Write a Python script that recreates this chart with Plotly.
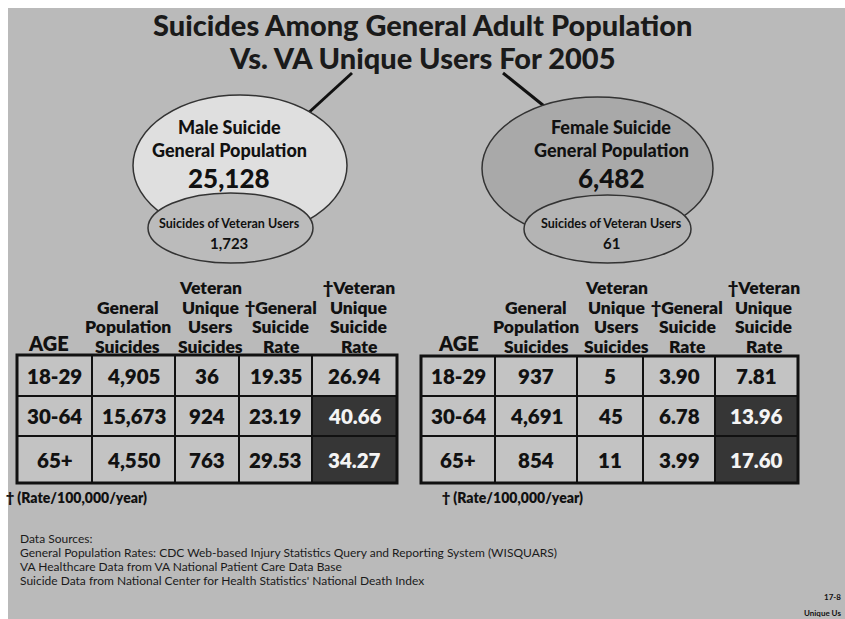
import plotly.graph_objects as go

# ---------------- data ----------------
title_lines = ["Suicides Among General Adult Population", "Vs. VA Unique Users For 2005"]

male_label = ["Male Suicide", "General Population"]
male_total = "25,128"
male_vet = "1,723"
female_label = ["Female Suicide", "General Population"]
female_total = "6,482"
female_vet = "61"
inner_label = "Suicides of Veteran Users"

ages = ["18-29", "30-64", "65+"]
male_gen_suicides = ["4,905", "15,673", "4,550"]
male_vet_suicides = ["36", "924", "763"]
male_gen_rate = ["19.35", "23.19", "29.53"]
male_vet_rate = ["26.94", "40.66", "34.27"]

female_gen_suicides = ["937", "4,691", "854"]
female_vet_suicides = ["5", "45", "11"]
female_gen_rate = ["3.90", "6.78", "3.99"]
female_vet_rate = ["7.81", "13.96", "17.60"]

headers = [["AGE"],
           ["General", "Population", "Suicides"],
           ["Veteran", "Unique", "Users", "Suicides"],
           ["\u2020General", "Suicide", "Rate"],
           ["\u2020Veteran", "Unique", "Suicide", "Rate"]]
highlight = [False, True, True]  # rows whose veteran rate cell is dark

footnote = "\u2020 (Rate/100,000/year)"
sources = ["Data Sources:",
           "General Population Rates: CDC Web-based Injury Statistics Query and Reporting System (WISQUARS)",
           "VA Healthcare Data from VA National Patient Care Data Base",
           "Suicide Data from National Center for Health Statistics' National Death Index"]
corner = ["17-8", "Unique Us"]

# ---------------- styling / layout ----------------
W, H = 845, 619
BG = "#bababa"
FONT = "Lato, 'Open Sans', sans-serif"

fig = go.Figure()
shapes = []
ann = []


def text(x, y, s, size, weight=700, color="#111", xanchor="center", yanchor="middle"):
    ann.append(dict(x=x, y=y, xref="x", yref="y", text=s,
                    showarrow=False, xanchor=xanchor, yanchor=yanchor,
                    font=dict(family=FONT, size=size, color=color, weight=weight)))


# background
shapes.append(dict(type="rect", x0=8, x1=W + 2, y0=8, y1=H + 2, fillcolor=BG, line=dict(width=0), layer="below"))

# title
text(422, 24, title_lines[0], 29, weight=900, color="#1a1a1a")
text(422, 57, title_lines[1], 29, weight=900, color="#1a1a1a")

# connector lines
shapes.append(dict(type="line", x0=352, y0=73, x1=305, y1=116, line=dict(color="#111", width=3)))
shapes.append(dict(type="line", x0=503, y0=73, x1=549, y1=110, line=dict(color="#111", width=3)))


def venn(outer, inner, ofill, ifill, cx, label, total, vet):
    shapes.append(dict(type="circle", x0=outer[0], x1=outer[1], y0=outer[2], y1=outer[3],
                       fillcolor=ofill, line=dict(color="#333", width=1.5)))
    shapes.append(dict(type="circle", x0=inner[0], x1=inner[1], y0=inner[2], y1=inner[3],
                       fillcolor=ifill, line=dict(color="#333", width=1.5)))
    text(cx, 127, label[0], 18, weight=900)
    text(cx, 150, label[1], 18, weight=900)
    text(cx, 178, total, 26, weight=900)
    text(cx, 223, inner_label, 12.5)
    text(cx, 243, vet, 15)


venn((133, 347, 95, 236), (148, 313, 193, 263), "#dfdfdf", "#bbbbbb", 229, male_label, male_total, male_vet)
venn((482, 713, 97, 240), (524, 691, 195, 263), "#a9a9a9", "#b4b4b4", 611, female_label, female_total, female_vet)


def table(col_edges, row_edges, columns, head_shift, foot_x):
    ncol = len(col_edges) - 1
    nrow = len(row_edges) - 1
    # headers
    for c in range(ncol):
        cx = (col_edges[c] + col_edges[c + 1]) / 2 + head_shift[c]
        lines = headers[c]
        for i, s in enumerate(reversed(lines)):
            y = 346 - i * 19.5
            if s == "AGE":
                text(cx, 343, s, 20, weight=800)
            else:
                text(cx, y, s, 17.5, weight=800)
    # cells
    for r in range(nrow):
        for c in range(ncol):
            dark = (c == ncol - 1) and highlight[r]
            shapes.append(dict(type="rect", x0=col_edges[c], x1=col_edges[c + 1],
                               y0=row_edges[r], y1=row_edges[r + 1],
                               fillcolor="#363636" if dark else "#c3c3c3",
                               line=dict(color="#111", width=2)))
            cx = (col_edges[c] + col_edges[c + 1]) / 2
            cy = (row_edges[r] + row_edges[r + 1]) / 2
            text(cx, cy, columns[c][r], 20.5, weight=800, color="#f4f4f4" if dark else "#111")
    shapes.append(dict(type="rect", x0=col_edges[0], x1=col_edges[-1], y0=row_edges[0], y1=row_edges[-1],
                       line=dict(color="#111", width=3), fillcolor="rgba(0,0,0,0)"))
    text(foot_x, 497, footnote, 14, weight=800, xanchor="left")


table([17, 92, 175, 239, 312, 397], [355, 396, 436, 483],
      [ages, male_gen_suicides, male_vet_suicides, male_gen_rate, male_vet_rate],
      [-6, -6, 3, 5, 4], 4)
table([421, 495, 577, 643, 715, 798], [356, 396, 436, 483],
      [ages, female_gen_suicides, female_vet_suicides, female_gen_rate, female_vet_rate],
      [0, 0, 6, 8, 7], 440)

for i, s in enumerate(sources):
    text(18, 538 + i * 14, s, 12, weight=400, color="#1a1a1a", xanchor="left")

# cropped corner text
text(843, 597, corner[0], 8, xanchor="right")
text(843, 613, corner[1], 8, xanchor="right")

fig.update_layout(
    width=W, height=H, margin=dict(l=0, r=0, t=0, b=0),
    paper_bgcolor="white", plot_bgcolor="white",
    xaxis=dict(range=[0, W], visible=False, fixedrange=True),
    yaxis=dict(range=[H, 0], visible=False, fixedrange=True),
    shapes=shapes, annotations=ann, showlegend=False,
)
fig.write_html("out.html", config={"displayModeBar": False},
               post_script="document.body.style.margin='0';document.body.style.overflow='hidden';")
